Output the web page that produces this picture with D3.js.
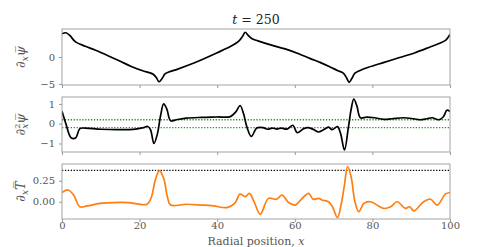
<!DOCTYPE html>
<html>
<head>
<meta charset="utf-8">
<script src="https://cdn.jsdelivr.net/npm/d3@7"></script>
<style>
  body { margin: 0; background: #fff; }
  svg text { font-family: "DejaVu Serif", serif; }
</style>
</head>
<body>
<div id="chart"></div>
<script>
// radial position samples and values
const psiX = [0, 1, 2, 3.5, 6, 8.5, 12, 15, 18, 21, 22.5, 23.5, 24.3, 25, 25.8, 26.6, 27.5, 30, 33, 36, 40, 43.5, 45.5, 46.5, 47.2, 48, 49, 50.5, 54, 57.5, 61, 64, 66.5, 69, 71, 72.5, 73.3, 74, 74.7, 75.5, 76.5, 79, 83, 87, 91, 95, 97.5, 99, 100];
const psiY = [4.3, 4.5, 4.0, 2.8, 2.0, 1.3, 0.2, -0.8, -1.8, -2.6, -2.9, -3.2, -3.8, -4.6, -4.0, -3.1, -2.8, -2.2, -1.4, -0.5, 0.8, 2.0, 2.9, 3.8, 4.6, 4.0, 3.4, 3.0, 2.2, 1.5, 0.6, -0.3, -1.0, -1.8, -2.5, -3.0, -3.8, -4.7, -4.0, -3.0, -2.6, -1.9, -1.0, -0.1, 0.8, 1.9, 2.6, 3.2, 4.2];

const curvX = [0, 1, 2.3, 3.5, 4.6, 6, 10, 15, 19, 21, 22, 22.8, 23.7, 24.6, 25.4, 26.2, 27, 28, 29.5, 32, 36, 40, 43.4, 44.8, 45.9, 46.8, 47.6, 48.8, 50.2, 51.8, 53, 54.2, 55.4, 56.5, 58, 59.5, 60.6, 62.3, 63.5, 64.9, 66.1, 67.3, 68.7, 69.6, 71, 71.8, 72.8, 73.8, 74.5, 75.2, 76, 76.9, 78.5, 80.5, 82.9, 85, 88, 90.6, 92.3, 94, 95.4, 97.1, 98.3, 99.2, 100];
const curvY = [0.63, 0.0, -0.7, -0.72, -0.25, -0.22, -0.28, -0.3, -0.27, -0.2, -0.13, -0.3, -1.0, -0.5, 0.4, 1.0, 0.75, 0.15, 0.2, 0.28, 0.32, 0.34, 0.36, 0.6, 0.92, 0.5, -0.13, -0.64, -0.22, -0.2, -0.28, -0.22, -0.27, -0.22, -0.27, -0.08, -0.45, -0.25, -0.2, -0.3, -0.42, -0.32, -0.17, -0.3, -0.15, -0.5, -1.33, -0.2, 0.7, 1.25, 0.9, 0.3, 0.33, 0.3, 0.22, 0.25, 0.3, 0.25, 0.2, 0.25, 0.3, 0.2, 0.35, 0.68, 0.62];

const tempX = [0, 1.6, 3, 4.6, 6.5, 9.8, 13.2, 17, 21.9, 23, 24, 25.1, 26.2, 27.2, 28, 32, 36, 39, 42.5, 44.5, 45.9, 47.2, 48.3, 49.5, 51.1, 53.2, 55.3, 56.7, 58.4, 60.1, 61.5, 63.6, 64.7, 66.2, 67, 68.7, 69.7, 71, 72, 72.8, 73.6, 74.5, 75.5, 76.5, 77.8, 79.5, 81.6, 82.9, 84.7, 86.4, 88.5, 89.6, 90.7, 93.2, 95, 96.7, 98.8, 100];
const tempY = [0.11, 0.14, 0.08, -0.06, -0.05, -0.02, -0.01, -0.01, -0.03, 0.05, 0.25, 0.37, 0.28, 0.05, -0.04, -0.03, -0.04, -0.05, -0.07, -0.02, 0.09, 0.06, 0.1, 0.0, -0.15, 0.04, 0.03, 0.08, -0.01, -0.04, 0.02, 0.1, 0.03, 0.04, 0.02, 0.0, -0.06, -0.19, -0.02, 0.2, 0.42, 0.3, 0.0, -0.12, -0.02, 0.0, -0.05, -0.08, -0.06, 0.0, -0.08, -0.06, -0.11, 0.0, 0.03, -0.04, 0.09, 0.11];

const xTicks = [0, 20, 40, 60, 80, 100];
const curvLevels = [0.2, -0.2];
const tempLevels = [0.375];

const width = 500;
const height = 247;
const left = 62, right = 450;
const serif = '"DejaVu Serif", serif';

const svg = d3.select('#chart').append('svg')
  .attr('width', width)
  .attr('height', height);

const x = d3.scaleLinear().domain([0, 100]).range([left, right]);

const panels = [
  { xs: psiX, ys: psiY, top: 29, bottom: 85, domain: [-5.2, 5.2], ticks: [-5, 0], fmt: d3.format('d'),
    color: '#000', levels: [], levelColor: null, label: 'psi' },
  { xs: curvX, ys: curvY, top: 97, bottom: 152, domain: [-1.43, 1.35], ticks: [-1, 0, 1], fmt: d3.format('d'),
    color: '#000', levels: curvLevels, levelColor: '#1f9a1f', label: 'curv' },
  { xs: tempX, ys: tempY, top: 164, bottom: 219, domain: [-0.206, 0.45], ticks: [0, 0.25], fmt: d3.format('.2f'),
    color: '#ff7f0e', levels: tempLevels, levelColor: '#000', label: 'temp' }
];

panels.forEach((p, i) => {
  const y = d3.scaleLinear().domain(p.domain).range([p.bottom, p.top]);
  const g = svg.append('g');

  g.append('defs').append('clipPath').attr('id', 'clip' + i)
    .append('rect').attr('x', left).attr('y', p.top).attr('width', right - left).attr('height', p.bottom - p.top);

  // reference levels
  g.selectAll('line.level').data(p.levels).join('line')
    .attr('class', 'level')
    .attr('x1', left).attr('x2', right)
    .attr('y1', d => y(d)).attr('y2', d => y(d))
    .attr('stroke', p.levelColor)
    .attr('stroke-width', 1.3)
    .attr('stroke-dasharray', '1.3,1.6');

  const line = d3.line()
    .x(d => x(d[0]))
    .y(d => y(d[1]))
    .curve(d3.curveCatmullRom.alpha(0.5));

  g.append('path')
    .datum(d3.zip(p.xs, p.ys))
    .attr('clip-path', `url(#clip${i})`)
    .attr('fill', 'none')
    .attr('stroke', p.color)
    .attr('stroke-width', 1.7)
    .attr('stroke-linejoin', 'round')
    .attr('d', line);

  // frame
  g.append('rect')
    .attr('x', left).attr('y', p.top)
    .attr('width', right - left).attr('height', p.bottom - p.top)
    .attr('fill', 'none').attr('stroke', '#999').attr('stroke-width', 0.9);

  const yAxis = g.append('g')
    .attr('transform', `translate(${left},0)`)
    .call(d3.axisLeft(y).tickValues(p.ticks).tickFormat(d => p.fmt(d).replace('-', '\u2212')).tickSize(3).tickPadding(4));
  yAxis.select('.domain').remove();

  const xAxis = g.append('g')
    .attr('transform', `translate(0,${p.bottom})`)
    .call(d3.axisBottom(x).tickValues(xTicks).tickSize(3).tickPadding(0)
      .tickFormat(i === 2 ? d3.format('d') : () => ''));
  xAxis.select('.domain').remove();

  [yAxis, xAxis].forEach(a => {
    a.attr('font-family', serif);
    a.selectAll('line').attr('stroke', '#999');
    a.selectAll('text').attr('fill', '#555').style('font-size', '10px');
  });

  // y label
  const lab = g.append('text')
    .attr('transform', `translate(25,${(p.top + p.bottom) / 2}) rotate(-90)`)
    .attr('text-anchor', 'middle')
    .attr('fill', '#555')
    .style('font-size', '13px');
  if (p.label === 'psi') {
    lab.append('tspan').text('\u2202');
    lab.append('tspan').attr('font-style', 'italic').attr('dy', 3).style('font-size', '9px').text('x');
    lab.append('tspan').attr('font-style', 'italic').attr('dy', -3).text('\u03c8\u0305');
  } else if (p.label === 'curv') {
    lab.append('tspan').text('\u2202');
    lab.append('tspan').attr('dy', -5).style('font-size', '8px').text('2');
    lab.append('tspan').attr('font-style', 'italic').attr('dx', -5).attr('dy', 8).style('font-size', '9px').text('x');
    lab.append('tspan').attr('font-style', 'italic').attr('dy', -3).text('\u03c8\u0305');
  } else {
    lab.append('tspan').text('\u2202');
    lab.append('tspan').attr('font-style', 'italic').attr('dy', 3).style('font-size', '9px').text('x');
    lab.append('tspan').attr('font-style', 'italic').attr('dy', -3).text('T\u0305');
  }
});

// title
const title = svg.append('text')
  .attr('x', (left + right) / 2)
  .attr('y', 24)
  .attr('text-anchor', 'middle')
  .attr('fill', '#222')
  .style('font-size', '12.5px');
title.append('tspan').attr('font-style', 'italic').text('t');
title.append('tspan').text(' = 250');

// x label
const xl = svg.append('text')
  .attr('x', (left + right) / 2)
  .attr('y', 245)
  .attr('text-anchor', 'middle')
  .attr('fill', '#555')
  .style('font-size', '11px');
xl.append('tspan').text('Radial position, ');
xl.append('tspan').attr('font-style', 'italic').text('x');
</script>
</body>
</html>
